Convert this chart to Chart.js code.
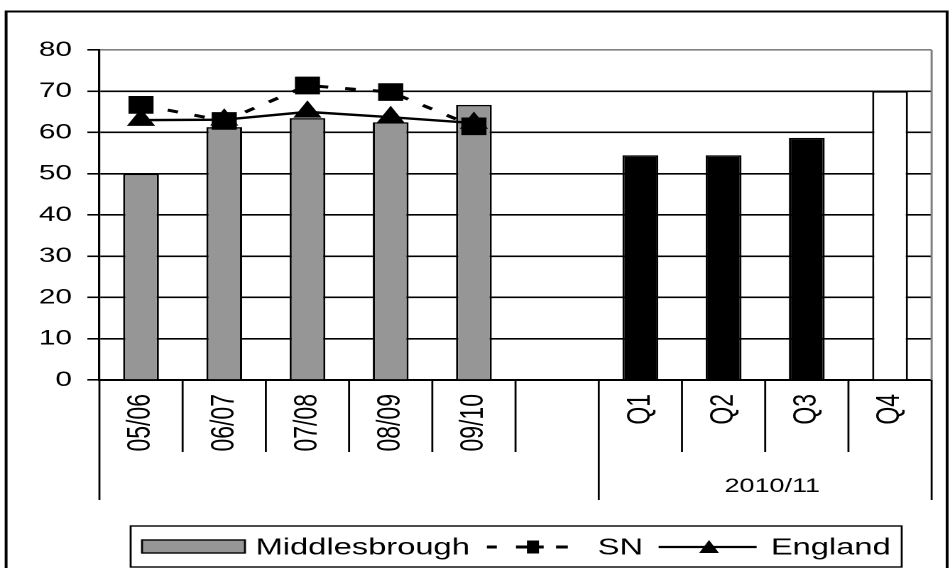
<!DOCTYPE html>
<html>
<head>
<meta charset="utf-8">
<script src="https://cdn.jsdelivr.net/npm/chart.js@4.4.0/dist/chart.umd.min.js"></script>
<style>
html, body { margin: 0; padding: 0; background: #fff; overflow: hidden; }
/* the original picture is stretched sideways, so draw narrow and widen */
#wrap { position: relative; width: 669px; height: 568px; transform: scaleX(1.42); transform-origin: 0 0; }
</style>
</head>
<body>
<div id="wrap"><canvas id="chart"></canvas></div>
<script>
// data
const categories = ['05/06', '06/07', '07/08', '08/09', '09/10', '', 'Q1', 'Q2', 'Q3', 'Q4'];
const middlesbrough = [50, 61.3, 63.5, 62.5, 66.7, null, 54.5, 54.5, 58.7, 70];
const sn = [66.7, 62.8, 71.4, 69.8, 61.5, null, null, null, null, null];
const england = [63, 63.1, 65, 63.7, 62.3, null, null, null, null, null];
const yTicks = [0, 10, 20, 30, 40, 50, 60, 70, 80];
const groupLabel = '2010/11';
const groupStart = 6; // first category of the 2010/11 group

const FONT = "'Liberation Sans', Arial, sans-serif";
const barColors = categories.map((c, i) => i < 6 ? '#969696' : (c === 'Q4' ? '#ffffff' : '#000000'));

// separators under the axis, group label, frame and legend
const extrasPlugin = {
  id: 'extras',
  afterDraw(chart) {
    const ctx = chart.ctx;
    const x = chart.scales.x;
    const area = chart.chartArea;
    const n = categories.length;
    ctx.save();

    // grey right border of plot
    ctx.strokeStyle = '#808080';
    ctx.lineWidth = 1.5;
    ctx.beginPath();
    ctx.moveTo(area.right, area.top);
    ctx.lineTo(area.right, area.bottom);
    ctx.stroke();

    // category separators
    ctx.strokeStyle = '#000';
    ctx.lineWidth = 1.4;
    for (let i = 0; i <= n; i++) {
      const px = x.getPixelForValue(i - 0.5);
      const long = (i === 0 || i === groupStart || i === n);
      ctx.beginPath();
      ctx.moveTo(px, area.bottom);
      ctx.lineTo(px, long ? 500 : 452);
      ctx.stroke();
    }

    // group label
    const gx = (x.getPixelForValue(groupStart - 0.5) + x.getPixelForValue(n - 0.5)) / 2;
    ctx.fillStyle = '#000';
    ctx.font = '19px ' + FONT;
    ctx.textAlign = 'center';
    ctx.textBaseline = 'middle';
    ctx.fillText(groupLabel, gx + 5, 487);

    // outer frame
    ctx.lineWidth = 2;
    ctx.beginPath();
    ctx.moveTo(4.3, 568);
    ctx.lineTo(4.3, 11.5);
    ctx.lineTo(667, 11.5);
    ctx.lineTo(667, 568);
    ctx.stroke();

    // legend
    const top = 526, bottom = 567, midY = 547;
    ctx.lineWidth = 1.4;
    ctx.strokeRect(92, top, 543, bottom - top);
    ctx.font = '23px ' + FONT;
    ctx.textAlign = 'left';
    ctx.textBaseline = 'middle';

    let cx = 100;
    ctx.fillStyle = '#969696';
    ctx.fillRect(cx, 540, 72.5, 13);
    ctx.strokeRect(cx, 540, 72.5, 13);
    cx += 80;
    ctx.fillStyle = '#000';
    ctx.fillText('Middlesbrough', cx, midY + 1);
    cx += ctx.measureText('Middlesbrough').width + 12;

    // SN sample: dash, dash-square-dash, dash
    ctx.lineWidth = 3;
    [[0, 7], [20.5, 40], [48.7, 57]].forEach(([a, b]) => {
      ctx.beginPath();
      ctx.moveTo(cx + a, midY);
      ctx.lineTo(cx + b, midY);
      ctx.stroke();
    });
    ctx.fillRect(cx + 28.2, midY - 6.5, 8.5, 13);
    cx += 78;
    ctx.fillText('SN', cx, midY + 1);
    cx += ctx.measureText('SN').width + 11;

    // England sample
    ctx.lineWidth = 2.2;
    ctx.beginPath();
    ctx.moveTo(cx, midY);
    ctx.lineTo(cx + 69, midY);
    ctx.stroke();
    ctx.beginPath();
    ctx.moveTo(cx + 35.5, midY - 7);
    ctx.lineTo(cx + 42.5, midY + 6);
    ctx.lineTo(cx + 28.5, midY + 6);
    ctx.closePath();
    ctx.fill();
    cx += 79;
    ctx.fillText('England', cx, midY + 1);

    ctx.restore();
  }
};

new Chart(document.getElementById('chart'), {
  data: {
    labels: categories,
    datasets: [
      {
        type: 'line',
        label: 'SN',
        data: sn,
        order: 1,
        borderColor: '#000',
        borderWidth: 3,
        borderDash: [7.5, 12],
        pointStyle: 'rect',
        pointRadius: 12.5,
        pointBackgroundColor: '#000',
        pointBorderColor: '#000',
        pointBorderWidth: 0,
        tension: 0
      },
      {
        type: 'line',
        label: 'England',
        data: england,
        order: 2,
        borderColor: '#000',
        borderWidth: 2.4,
        pointStyle: 'triangle',
        pointRadius: 11.5,
        pointBackgroundColor: '#000',
        pointBorderColor: '#000',
        pointBorderWidth: 0,
        tension: 0
      },
      {
        type: 'bar',
        label: 'Middlesbrough',
        data: middlesbrough,
        order: 3,
        backgroundColor: barColors,
        borderColor: '#000',
        borderWidth: 1.5,
        barPercentage: 0.43,
        categoryPercentage: 1
      }
    ]
  },
  options: {
    responsive: true,
    maintainAspectRatio: false,
    animation: false,
    devicePixelRatio: 2,
    layout: { padding: { top: 50, right: 8.5, bottom: 0, left: 0 } },
    plugins: {
      legend: { display: false },
      tooltip: { enabled: false },
      title: { display: false }
    },
    scales: {
      x: {
        afterFit(scale) { scale.height = 188; },
        grid: { display: false, drawTicks: false },
        border: { display: true, color: '#000', width: 2 },
        ticks: {
          color: '#000',
          font: { family: FONT, size: 23 },
          minRotation: 90,
          maxRotation: 90,
          autoSkip: false,
          padding: 14
        }
      },
      y: {
        min: 0,
        max: 80,
        afterFit(scale) { scale.width = 70; },
        afterBuildTicks(scale) { scale.ticks = yTicks.map(v => ({ value: v })); },
        grid: {
          color: ctx => (ctx.tick && ctx.tick.value === 80) ? '#808080' : '#000',
          lineWidth: 1.6,
          tickLength: 8.5,
          tickColor: '#000'
        },
        border: { display: true, color: '#000', width: 1.6 },
        ticks: {
          color: '#000',
          font: { family: FONT, size: 21 },
          padding: 10.8
        }
      }
    }
  },
  plugins: [extrasPlugin]
});
</script>
</body>
</html>
